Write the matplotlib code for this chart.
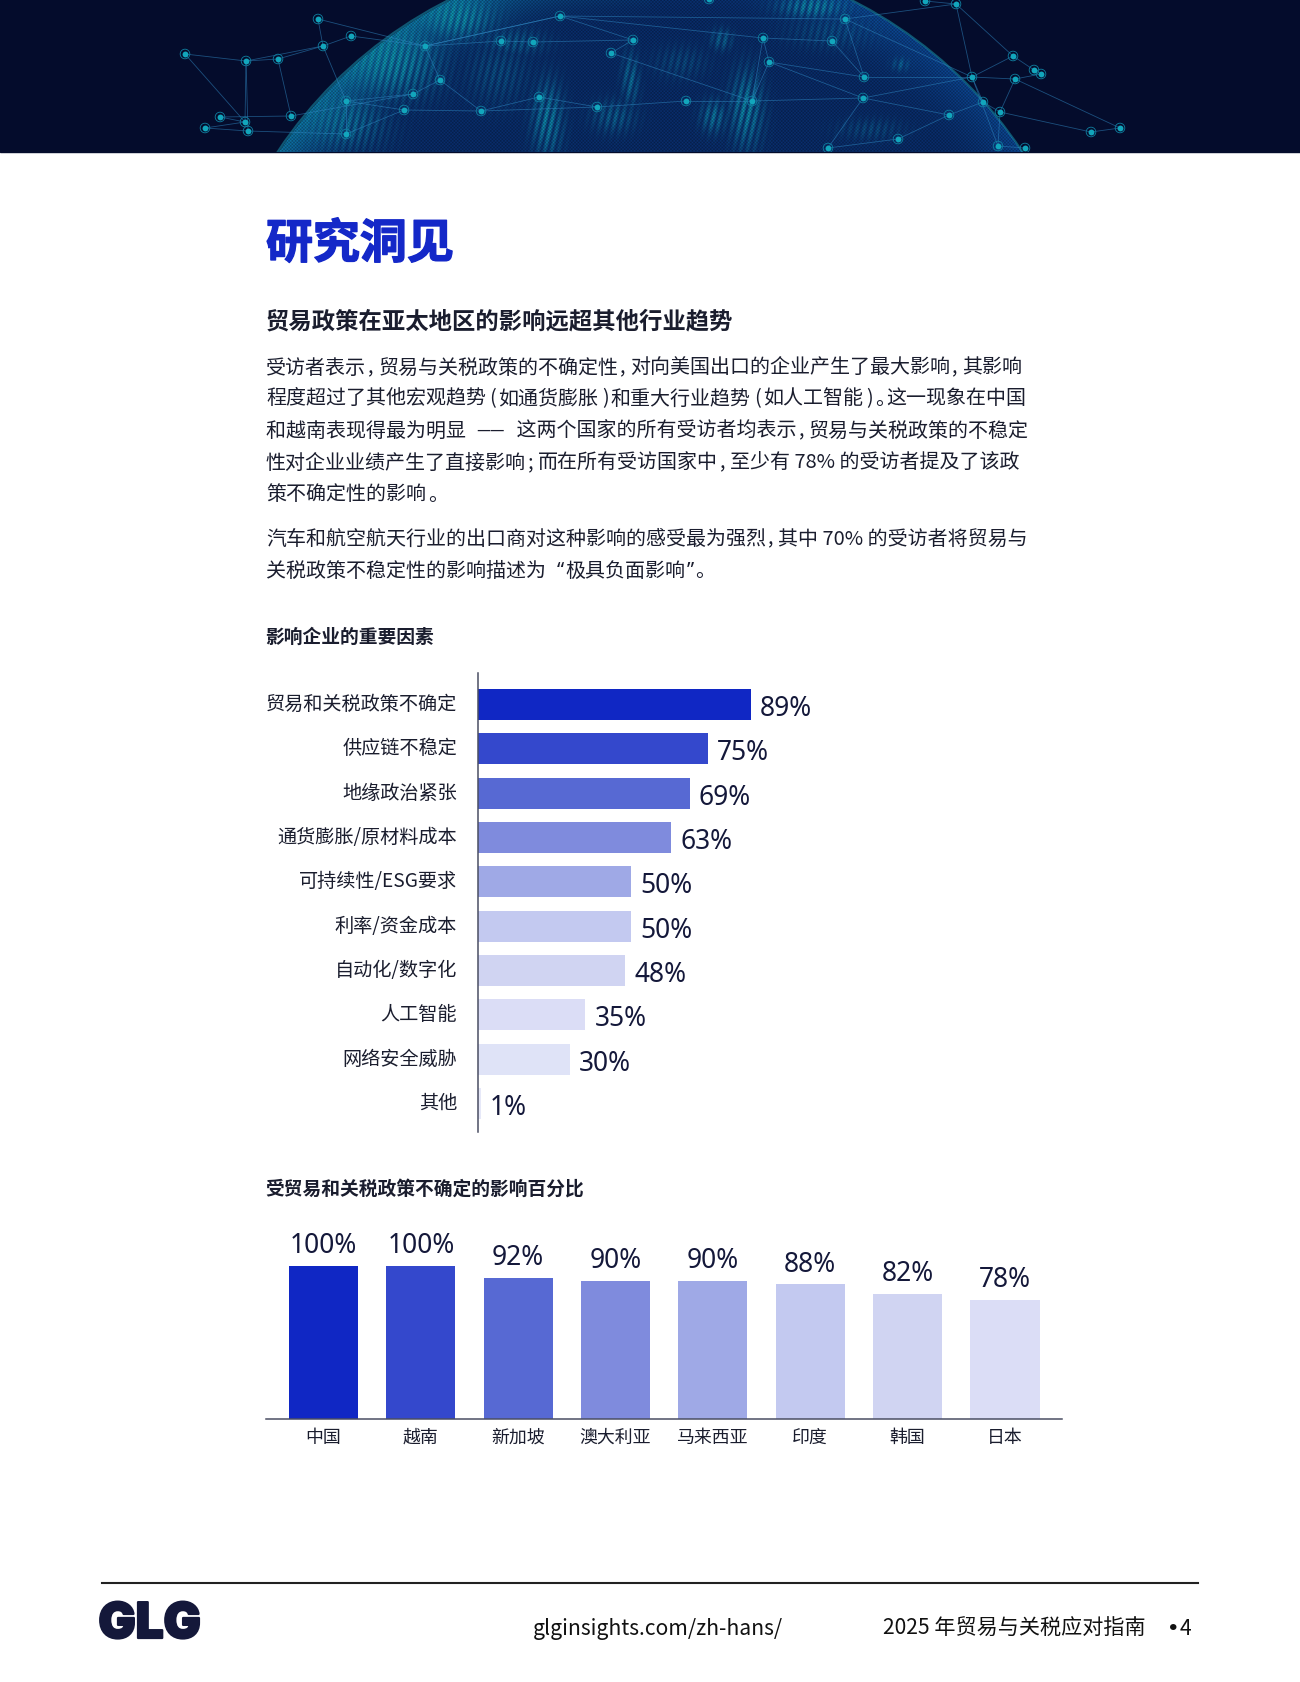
import numpy as np
import matplotlib
matplotlib.use("Agg")
import matplotlib.pyplot as plt
import matplotlib.patheffects as pe
from matplotlib.patches import Circle
from matplotlib.transforms import ScaledTranslation

FONT_CJK = ["Noto Sans CJK SC", "DejaVu Sans"]
FONT_NUM = ["Noto Sans", "DejaVu Sans"]
plt.rcParams["font.family"] = FONT_CJK

DARK = "#1a1d2e"
NAVY = "#14183a"
BLUE = "#1428c8"

# ---- chart data
factor_labels = ["贸易和关税政策不确定", "供应链不稳定", "地缘政治紧张", "通货膨胀/原材料成本",
                 "可持续性/ESG要求", "利率/资金成本", "自动化/数字化", "人工智能", "网络安全威胁", "其他"]
factor_values = [89, 75, 69, 63, 50, 50, 48, 35, 30, 1]
factor_colors = ["#1027c4", "#3448cc", "#5769d3", "#7f8bdd", "#9fa9e6",
                 "#c3c9f0", "#d0d4f2", "#dbddf6", "#dfe3f7", "#e6e8f8"]

country_labels = ["中国", "越南", "新加坡", "澳大利亚", "马来西亚", "印度", "韩国", "日本"]
country_values = [100, 100, 92, 90, 90, 88, 82, 78]
country_colors = ["#1027c4", "#3448cc", "#5769d3", "#7f8bdd", "#9fa9e6", "#c3c9f0", "#d0d4f2", "#dbddf6"]

# ---- body copy, one entry per printed line
body_lines = [
    "受访者表示,贸易与关税政策的不确定性,对向美国出口的企业产生了最大影响,其影响",
    "程度超过了其他宏观趋势(如通货膨胀)和重大行业趋势(如人工智能)。这一现象在中国",
    "和越南表现得最为明显 —— 这两个国家的所有受访者均表示,贸易与关税政策的不稳定",
    "性对企业业绩产生了直接影响;而在所有受访国家中,至少有 78% 的受访者提及了该政",
    "策不确定性的影响。",
    "汽车和航空航天行业的出口商对这种影响的感受最为强烈,其中 70% 的受访者将贸易与",
    "关税政策不稳定性的影响描述为 “极具负面影响”。",
]
body_y = [365.5, 396.5, 428.5, 460.5, 492.5, 536.5, 569]

# ---- network in the banner, pixel positions
net_nodes = [(185, 55), (246, 62), (278, 60), (323, 47), (351, 37), (318, 20), (425, 47), (560, 17),
             (845, 20), (956, 5), (925, 2), (709, 0), (763, 39), (832, 42), (769, 63), (633, 41),
             (611, 54), (533, 43), (501, 42), (440, 81), (413, 95), (346, 102), (404, 111), (481, 112),
             (291, 117), (220, 118), (245, 123), (205, 129), (248, 132), (346, 135), (539, 98), (597, 108),
             (686, 102), (752, 102), (863, 99), (864, 78), (972, 78), (1013, 57), (1034, 71), (1041, 75),
             (1015, 80), (983, 103), (1000, 113), (949, 116), (898, 140), (828, 149), (998, 147),
             (1025, 149), (1091, 133), (1120, 129)]
net_links = [(0, 1), (1, 2), (1, 3), (2, 3), (3, 4), (3, 5), (4, 6), (6, 7), (7, 8), (8, 9), (9, 10),
             (0, 26), (1, 26), (1, 28), (5, 6), (6, 19), (19, 23), (23, 30), (30, 31), (31, 32), (32, 33),
             (33, 34), (34, 36), (36, 8), (8, 35), (35, 36), (36, 37), (37, 38), (38, 39), (39, 40),
             (40, 36), (40, 42), (42, 48), (48, 49), (40, 49), (36, 41), (41, 42), (41, 43), (43, 44), (44, 45),
             (42, 46), (46, 47), (33, 12), (12, 13), (13, 35), (12, 14), (14, 35), (15, 16), (16, 33), (17, 18),
             (18, 6), (15, 17), (19, 20), (20, 21), (21, 22), (22, 23), (24, 25), (25, 26), (26, 27), (27, 28),
             (28, 29), (24, 2), (24, 20), (29, 22), (7, 15), (7, 6), (37, 9), (9, 36), (43, 34), (12, 7),
             (14, 34), (23, 31), (46, 36), (45, 34), (33, 14), (21, 3), (29, 21)]

# land on the globe: centre x, centre y, spread x, spread y, strength
land_blobs = [(398, 67, 40, 30, 0.85), (350, 125, 35, 25, 0.6), (497, 73, 30, 30, 0.35), (460, 20, 30, 18, 0.8),
              (547, 120, 14, 35, 0.95), (613, 117, 20, 15, 0.55), (630, 80, 8, 25, 0.7), (721, 40, 10, 10, 0.6),
              (746, 110, 15, 35, 1.0), (713, 117, 12, 15, 0.8), (812, 7, 30, 10, 1.0), (829, 33, 40, 15, 0.3),
              (900, 65, 8, 6, 0.5), (680, 63, 25, 15, 0.3), (514, 43, 30, 12, 0.5), (870, 130, 30, 10, 0.3)]


def page_text(ax, x, y, s, size, color=DARK, weight="normal", ha="left", family=None):
    return ax.text(x, y, s, fontsize=size, color=color, fontweight=weight, ha=ha, va="center_baseline",
                   family=family or FONT_CJK)


def draw_body_line(fig, ax, x, y, line, size):
    # set the punctuation half width, the way the original is set
    em = size * 100 / 72
    renderer = fig.canvas.get_renderer()
    run = ""
    line = line.replace("——", "\1")
    for ch in line + "\0":
        if ch not in ",;()。\1“”\0":
            run += ch
            continue
        if run:
            t = page_text(ax, x, y, run, size)
            x += t.get_window_extent(renderer).width + em * 0.06
            if run.endswith(" "):
                x += em * 0.25
            run = ""
        if ch == "\1":
            t = page_text(ax, x, y, "——", size * 0.8)
            x += t.get_window_extent(renderer).width + em * 0.35
        elif ch in "“”":
            page_text(ax, x, y, ch, size, family=FONT_NUM)
            x += em * 0.42
        elif ch != "\0":
            page_text(ax, x + em * (0.12 if ch in "()" else 0.03), y, ch, size)
            x += em * 0.55


def draw_banner(ax):
    ax.add_patch(plt.Rectangle((0, 0), 1300, 153, color="#040c2c", zorder=0))
    yy, xx = np.mgrid[0:153, 0:1300]
    cx, cy, r = 650, 400, 447
    dist = np.hypot(xx - cx, yy - cy)

    land = np.zeros(dist.shape)
    for bx, by, sx, sy, k in land_blobs:
        land = np.maximum(land, k * np.exp(-((xx - bx) / sx) ** 2 - ((yy - by) / sy) ** 2))
    streaks = 0.55 + 0.45 * np.sin((xx * 0.9 + yy * 0.22))
    dots = 0.82 + 0.18 * np.sin(xx * 1.9) * np.sin(yy * 1.9)
    land = land * streaks
    rim = np.clip((dist - (r - 70)) / 70, 0, 1) ** 2

    dark = np.array([0.03, 0.12, 0.34])
    mid = np.array([0.05, 0.30, 0.62])
    teal = np.array([0.06, 0.62, 0.72])
    tone = np.clip(0.35 + 0.6 * rim + 0.6 * land, 0, 1)[..., None]
    rgb = dark + (mid - dark) * tone
    glow = np.clip(land * 0.9 + rim * 0.55 * (xx < 650), 0, 1)[..., None]
    rgb = rgb + (teal - rgb) * glow
    rgb = rgb * dots[..., None]
    alpha = np.clip(r - dist, 0, 1)
    ax.imshow(np.dstack([rgb, alpha]), extent=(0, 1300, 153, 0), zorder=1, interpolation="bilinear", aspect="auto")
    ax.set_xlim(0, 1300)
    ax.set_ylim(1683, 0)

    band = plt.Rectangle((0, 0), 1300, 153, transform=ax.transData)
    edge = Circle((cx, cy), r, fill=False, edgecolor="#1aa0b8", lw=1.5, alpha=0.5, zorder=2)
    ax.add_patch(edge)
    edge.set_clip_path(band)
    for a, b in net_links:
        ln, = ax.plot(*zip(net_nodes[a], net_nodes[b]), color="#2f86c0", lw=0.6, alpha=0.55, zorder=3)
        ln.set_clip_path(band)
    xs, ys = zip(*net_nodes)
    ring = ax.scatter(xs, ys, s=48, facecolor="none", edgecolor="#0f7fa0", linewidth=0.6, zorder=4)
    ring.set_clip_path(band)
    pts = ax.scatter(xs, ys, s=18, color="#12a6bc", linewidth=0, zorder=4)
    pts.set_clip_path(band)


fig = plt.figure(figsize=(13, 16.83), dpi=100, facecolor="white")
page = fig.add_axes([0, 0, 1, 1])
page.set_xlim(0, 1300)
page.set_ylim(1683, 0)
page.axis("off")

draw_banner(page)

title = page_text(page, 266, 240, "研究洞见", 33.8, color=BLUE, weight="bold")
title.set_path_effects([pe.withStroke(linewidth=1.0, foreground=BLUE)])
page_text(page, 266, 319, "贸易政策在亚太地区的影响远超其他行业趋势", 16.8, weight="bold")
for line, y in zip(body_lines, body_y):
    draw_body_line(fig, page, 266, y, line, 14.4)
page_text(page, 265.5, 635, "影响企业的重要因素", 13.5, weight="bold")
page_text(page, 265.5, 1187, "受贸易和关税政策不确定的影响百分比", 13.5, weight="bold")

# ---- factors chart
ax1 = fig.add_axes([478 / 1300, 1 - 1133 / 1683, 322 / 1300, 459 / 1683])
ax1.barh(range(len(factor_values)), factor_values, height=0.7, color=factor_colors)
ax1.set_xlim(0, 322 / 3.067)
ax1.set_ylim(9.643, -0.711)
ax1.set_yticks(range(len(factor_labels)), factor_labels, fontsize=13.8, color=DARK)
ax1.tick_params(axis="y", length=0, pad=15)
ax1.set_xticks([])
for s in ("top", "right", "bottom"):
    ax1.spines[s].set_visible(False)
ax1.spines["left"].set_color("#4a4e63")
ax1.spines["left"].set_linewidth(1.1)
ax1.patch.set_alpha(0)
lift = ScaledTranslation(0, 3.5 / 100, fig.dpi_scale_trans)
for label in ax1.get_yticklabels():
    label.set_transform(label.get_transform() + lift)
for i, v in enumerate(factor_values):
    ax1.annotate(f"{v}%", (v, i), xytext=(6.5, 0), textcoords="offset points", va="center_baseline",
                 fontsize=19, fontweight="semibold", color=NAVY, family=FONT_NUM)

# ---- countries chart
ax2 = fig.add_axes([266 / 1300, 1 - 1419.5 / 1683, 796 / 1300, 200 / 1683])
ax2.bar(range(len(country_values)), country_values, width=0.71, color=country_colors)
ax2.set_xlim(-0.59, 7.586)
ax2.set_ylim(0, 131.3)
ax2.set_xticks(range(len(country_labels)), country_labels, fontsize=12.9, color=DARK)
ax2.tick_params(axis="x", length=0, pad=6.5)
ax2.set_yticks([])
for s in ("top", "right", "left"):
    ax2.spines[s].set_visible(False)
ax2.spines["bottom"].set_color("#4a4e63")
ax2.spines["bottom"].set_linewidth(1.1)
ax2.patch.set_alpha(0)
for i, v in enumerate(country_values):
    ax2.annotate(f"{v}%", (i, v), xytext=(0, 5), textcoords="offset points", ha="center", va="bottom",
                 fontsize=19, fontweight="semibold", color=NAVY, family=FONT_NUM)

# ---- footer
page.plot([102, 1198], [1583.5, 1583.5], color="#222222", lw=1.5)
logo = page_text(page, 98.5, 1621, "GLG", 35.5, color=NAVY, weight="black", family=["Inter", "DejaVu Sans"])
logo.set_path_effects([pe.withStroke(linewidth=1.6, foreground=NAVY)])
page_text(page, 533, 1626.5, "glginsights.com/zh-hans/", 15.2, color="#111111")
page_text(page, 883, 1626.5, "2025 年贸易与关税应对指南", 15.2, color="#111111")
page_text(page, 1158, 1626, "•", 22, color="#111111")
page_text(page, 1180, 1626.5, "4", 15.2, color="#111111", weight="medium")

fig.savefig("out.png", dpi=100)
